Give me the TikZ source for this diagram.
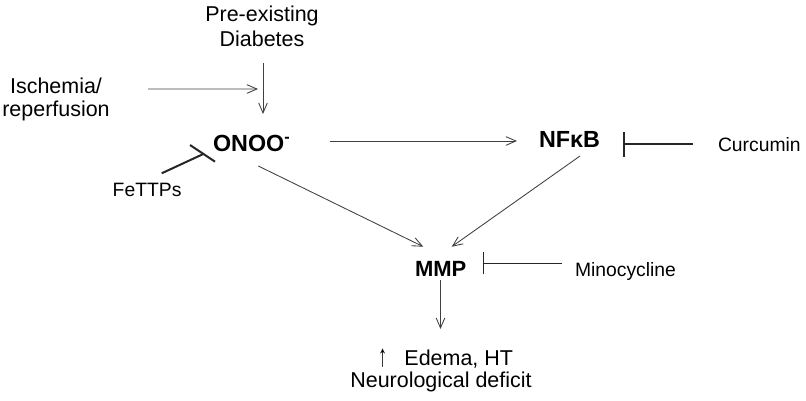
\documentclass[tikz,border=0pt]{standalone}
\usepackage{fontspec}
\usepackage{graphicx}
\setmainfont{Liberation Sans}
\usetikzlibrary{arrows.meta}
\begin{document}
\begin{tikzpicture}[x=0.75pt,y=-0.75pt,
  every node/.style={inner sep=0pt, outer sep=0pt},
  lbl/.style={font=\fontsize{16.1}{19}\selectfont, anchor=base},
  sml/.style={font=\fontsize{14.5}{17}\selectfont, anchor=base west},
  key/.style={font=\fontsize{17.5}{20}\selectfont\bfseries, anchor=base west},
  arr/.style={draw=black!75, line width=0.65pt, -{Straight Barb[length=7.5pt,width=6.5pt]}},
  inh/.style={draw=black!85, line width=1.1pt},
]
\useasboundingbox (0,0) rectangle (806,400);

% labels
\node[lbl] (pre1) at (262,21.7) {Pre-existing};
\node[lbl] (pre2) at (262,46.7) {Diabetes};
\node[lbl] (isch1) at (56,93) {Ischemia/};
\node[lbl] (isch2) at (56,116) {reperfusion};
\node[key] (onoo) at (213,151) {ONOO\textsuperscript{-}};
\node[key] (nfkb) at (539,147) {NFκB};
\node[key, font=\fontsize{16.5}{20}\selectfont\bfseries] (mmp) at (415,276) {MMP};
\node[sml] (curc) at (718,151) {Curcumin};
\node[sml] (mino) at (575,276.7) {Minocycline};
\node[sml] (fe) at (112.7,196.7) {FeTTPs};
\node[lbl, anchor=base west] (edema) at (378,365) {\raisebox{-1.2pt}{\scalebox{0.85}[1.45]{↑}}\hspace{13pt}Edema, HT};
\node[lbl] (neuro) at (441,387.5) {Neurological deficit};

% activating arrows
\draw[arr] ([shift={(1,16.3)}]pre2.base) -- ([shift={(50,-37)}]onoo.base west);
\coordinate (j) at ([shift={(-4,42.3)}]pre2.base);
\draw[arr] ([shift={(92,-4)}]isch1.base) -- (j);
\draw[arr] ([shift={(117,-10)}]onoo.base west) -- ([shift={(-22,-6)}]nfkb.base west);
\draw[arr] ([shift={(45.3,15)}]onoo.base west) -- ([shift={(8.3,-29.3)}]mmp.base west);
\draw[arr] ([shift={(41,9)}]nfkb.base west) -- ([shift={(36.7,-29.3)}]mmp.base west);
\draw[arr] ([shift={(25.5,4)}]mmp.base west) -- ([shift={(25.5,53)}]mmp.base west);

% inhibitors
\draw[inh, line width=1.2pt, -{Bar[width=18.75pt]}] ([shift={(-25,-7)}]curc.base west) -- ([shift={(-95,-7)}]curc.base west);
\draw[inh, line width=1pt, -{Bar[width=16.5pt]}] ([shift={(-13,-13.4)}]mino.base west) -- ([shift={(-92,-13.4)}]mino.base west);
\draw[inh, line width=1.5pt] ([shift={(49,-23.4)}]fe.base west) -- ([shift={(-9.7,3)}]onoo.base west);
\draw[inh, line width=1.5pt] ([shift={(-23,-6)}]onoo.base west) -- ([shift={(2,10.7)}]onoo.base west);
\end{tikzpicture}
\end{document}
